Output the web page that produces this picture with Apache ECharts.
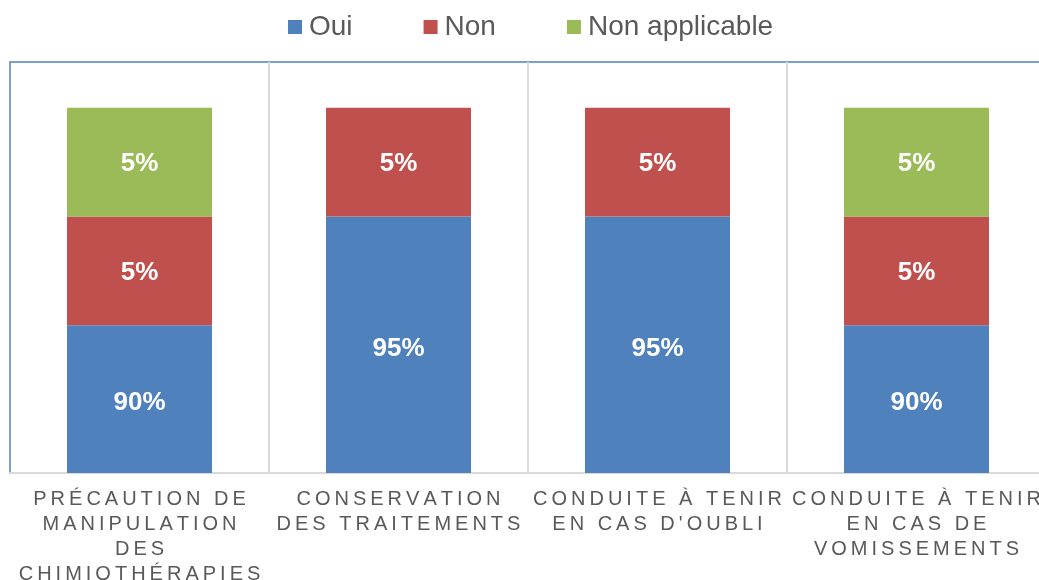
<!DOCTYPE html>
<html>
<head>
<meta charset="utf-8">
<script src="https://cdn.jsdelivr.net/npm/echarts@6/dist/echarts.min.js"></script>
<style>html,body{margin:0;padding:0;background:#fff;overflow:hidden;}#c{width:1048px;height:580px;}</style>
</head>
<body>
<div id="c"></div>
<script>
const categories = [
  "PRÉCAUTION DE\nMANIPULATION\nDES\nCHIMIOTHÉRAPIES",
  "CONSERVATION\nDES TRAITEMENTS",
  "CONDUITE À TENIR\nEN CAS D'OUBLI",
  "CONDUITE À TENIR\nEN CAS DE\nVOMISSEMENTS"
];
const seriesNames = ["Oui", "Non", "Non applicable"];
const oui = [90, 95, 95, 90];
const non = [5, 5, 5, 5];
const nonApplicable = [5, 0, 0, 5];

const colors = ["#4F81BD", "#C0504D", "#9BBB59"];
const spaced = s => s.split("\n").map(l => Array.from(l).join("\u2009")).join("\n");

const chart = echarts.init(document.getElementById('c'), null, {renderer: 'canvas'});
const mk = (name, data, color, dy) => ({
  name, type: 'bar', stack: 'total', data, barWidth: 145,
  itemStyle: {color},
  label: {
    show: true, position: 'inside', color: '#fff', offset: [0, dy],
    fontFamily: 'Liberation Sans, Arial, sans-serif', fontWeight: 'bold', fontSize: 26,
    formatter: p => p.value ? p.value + '%' : ''
  }
});
chart.setOption({
  animation: false,
  color: colors,
  legend: {
    data: seriesNames, left: 288, top: 13, padding: 0, itemWidth: 14, itemHeight: 14, itemGap: 71,
    icon: 'rect',
    textStyle: {fontFamily: 'Liberation Sans, Arial, sans-serif', fontSize: 28, color: '#595959', padding: [0, 0, 0, 2]}
  },
  grid: {
    left: 10, top: 62, width: 1036, height: 411,
    outerBoundsMode: 'none',
    show: true, borderColor: '#4F81BD', borderWidth: 1.5, backgroundColor: '#fff',
    containLabel: false
  },
  xAxis: {
    type: 'category', data: categories,
    axisLine: {show: true, lineStyle: {color: '#D9D9D9', width: 2}},
    axisTick: {show: false},
    splitLine: {show: true, showMinLine: false, lineStyle: {color: '#D9D9D9', width: 2}},
    axisLabel: {
      interval: 0, margin: 14, color: '#595959',
      fontFamily: 'Liberation Sans, Arial, sans-serif', fontSize: 20, lineHeight: 25,
      formatter: v => spaced(v)
    }
  },
  yAxis: {type: 'value', min: 83.2, max: 102.1, show: false, splitLine: {show: false}},
  series: [
    mk(seriesNames[0], oui, colors[0], 4),
    mk(seriesNames[1], non, colors[1], 2),
    mk(seriesNames[2], nonApplicable, colors[2], 2)
  ]
});
</script>
</body>
</html>
